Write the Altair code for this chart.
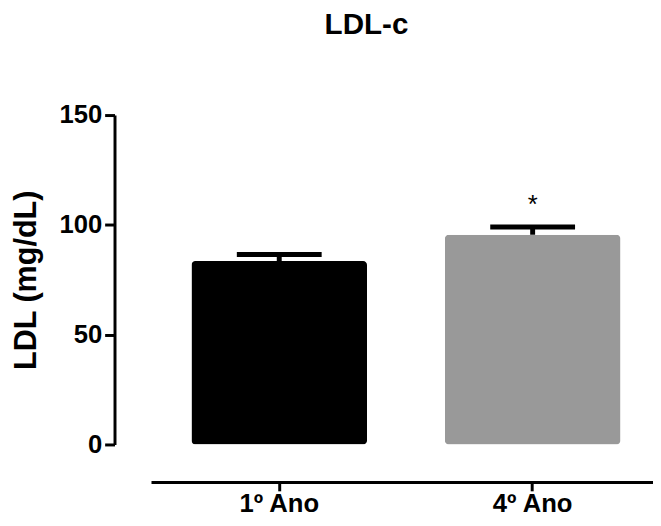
import altair as alt
import pandas as pd

groups = ["1º Ano", "4º Ano"]
means = [83.5, 95.5]
upper = [86.5, 99.0]
marks = ["", "*"]
colors = ["#000000", "#999999"]

df = pd.DataFrame({"grupo": groups, "ldl": means, "sup": upper, "sig": marks})

FONT = "Liberation Sans"

x = alt.X(
    "grupo:N", sort=groups, title=None,
    scale=alt.Scale(paddingInner=0.307, paddingOuter=0.144, align=0.554),
    axis=alt.Axis(labelAngle=0, offset=38, domainWidth=3, domainColor="black",
                  tickWidth=3, tickSize=9, tickColor="black", labelFontSize=26,
                  labelFont=FONT, labelFontWeight="bold", labelColor="black",
                  labelPadding=0),
)

yaxis = alt.Axis(values=[0, 50, 100, 150], offset=37, grid=False, domainWidth=3,
                 domainColor="black", tickWidth=3, tickSize=10, tickColor="black",
                 labelFontSize=26, labelFont=FONT, labelFontWeight="bold",
                 labelColor="black", labelPadding=3, titleFontSize=31, titleFont=FONT,
                 titleFontWeight="bold", titleColor="black", titlePadding=17)
yscale = alt.Scale(domain=[0, 150], nice=False)

base = alt.Chart(df)

bars = base.mark_bar(cornerRadius=4).encode(
    x=x,
    y=alt.Y("ldl:Q", scale=yscale, axis=yaxis, title="LDL (mg/dL)"),
    color=alt.Color("grupo:N", scale=alt.Scale(domain=groups, range=colors), legend=None),
)

stem = base.mark_rule(strokeWidth=5, color="black").encode(
    x=x,
    y=alt.Y("ldl:Q", scale=yscale, axis=yaxis, title="LDL (mg/dL)"),
    y2="sup:Q",
)

cap = base.mark_tick(size=86, thickness=5, color="black", opacity=1).encode(
    x=x,
    y=alt.Y("sup:Q", scale=yscale, axis=yaxis, title="LDL (mg/dL)"),
)

star = base.mark_text(fontSize=26, font=FONT, color="black", dy=-14,
                      baseline="alphabetic").encode(
    x=x,
    y=alt.Y("sup:Q", scale=yscale, axis=yaxis, title="LDL (mg/dL)"),
    text="sig:N",
)

chart = alt.layer(stem, bars, cap, star).properties(
    width=509,
    height=334,
    background="white",
    title=alt.TitleParams("LDL-c", fontSize=30, font=FONT, fontWeight="bold",
                          anchor="start", frame="group", dx=176, offset=63,
                          color="black"),
    autosize=alt.AutoSizeParams(type="none"),
    padding={"left": 145, "top": 105, "right": 0, "bottom": 71},
).configure_view(strokeWidth=0, stroke="transparent")

chart.save("out.html", embed_options={"renderer": "svg", "actions": False})
